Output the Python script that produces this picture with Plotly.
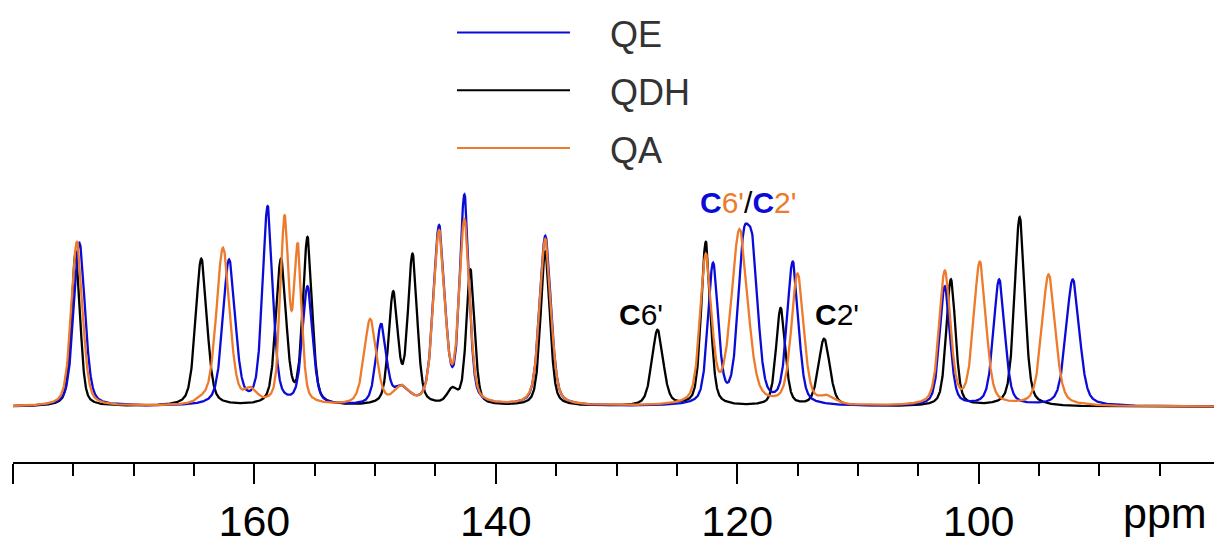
import numpy as np
import plotly.graph_objects as go

QE_ppm    = [174.5, 162.1, 160.3, 158.9, 155.6, 149.5, 147.8, 144.7, 142.6, 135.9, 122.0, 119.5, 118.7, 115.4, 102.8, 98.3, 92.2]
QE_height = [166,   149,   12,    203,   122,   84,    22,    184,   215,   173,   146,   176,   170,   147,   122,   129,  129]
QE_fwhm   = [1.1,   1.2,   1.0,   1.0,   1.0,   1.0,   1.5,   1.1,   0.9,   1.1,   1.0,   1.1,   1.1,   1.1,   1.0,   1.1,  1.3]

QDH_ppm    = [174.8, 164.4, 157.8, 155.6, 148.5, 146.9, 143.6, 142.1, 135.9, 126.6, 122.6, 116.4, 112.8, 102.3, 97.7, 96.6]
QDH_height = [157,   150,   150,   172,   117,   155,   20,    139,   157,   78,    167,   100,   69,    129,   18,   192]
QDH_fwhm   = [0.85,  1.1,   1.0,   0.9,   0.9,   0.9,   1.0,   0.8,   0.9,   1.1,   0.9,   0.9,   1.1,   0.9,   0.8,  1.0]

QA_ppm    = [174.7, 164.4, 162.6, 160.3, 157.5, 156.4, 150.4, 147.8, 144.7, 142.6, 137.2, 135.9, 122.6, 119.8, 115.0, 112.5, 102.8, 99.9, 94.2]
QA_height = [167,   12,    161,   20,    194,   166,   89,    22,    179,   190,   15,    170,   155,   180,   135,   12,    138,   147,  134]
QA_fwhm   = [1.1,   1.0,   1.3,   1.2,   0.8,   0.75,  1.2,   1.5,   1.1,   1.0,   0.8,   1.1,   1.1,   1.6,   1.2,   1.5,   1.1,   1.2,  1.3]

SERIES = ["QE", "QDH", "QA"]
COLORS = {"QE": "#0b0bd8", "QDH": "#000000", "QA": "#ee7a2c"}

X_TICKS = [180, 160, 140, 120, 100]
X_TICK_TEXT = ["", "160", "140", "120", "100"]

FONT = "Arial, 'Liberation Sans', sans-serif"
W, H = 1214, 545
ML, MR, MT, MB = 13, 0, 0, 77
PW, PH = W - ML - MR, H - MT - MB

ppm_grid = np.arange(80.5, 180.0001, 0.02)
ETA = 0.4


def shape(x, c, w):
    d = (x - c) / w
    return ETA / (1 + 4 * d ** 2) + (1 - ETA) * np.exp(-4 * np.log(2) * d ** 2)


def spectrum(ppm, height, fwhm):
    c = np.array(ppm, float)
    h = np.array(height, float)
    w = np.array(fwhm, float)
    M = shape(c[:, None], c[None, :], w[None, :])
    amp = np.clip(np.linalg.solve(M, h), 0, None)
    return (shape(ppm_grid[:, None], c[None, :], w[None, :]) * amp[None, :]).sum(axis=1)


data = {
    "QE": (QE_ppm, QE_height, QE_fwhm),
    "QDH": (QDH_ppm, QDH_height, QDH_fwhm),
    "QA": (QA_ppm, QA_height, QA_fwhm),
}

fig = go.Figure()
for name in ["QDH", "QE", "QA"]:
    fig.add_trace(go.Scatter(x=ppm_grid, y=spectrum(*data[name]), mode="lines",
                             line=dict(color=COLORS[name], width=2.3), name=name,
                             showlegend=False, hoverinfo="skip"))


def px(x):
    return (x - ML) / PW


def py(y):
    return (MT + PH - y) / PH


# manual legend
shapes = []
annotations = []
for i, name in enumerate(SERIES):
    ly = 33 + i * 58.5
    shapes.append(dict(type="line", xref="paper", yref="paper", x0=px(457), x1=px(570),
                       y0=py(ly), y1=py(ly), line=dict(color=COLORS[name], width=2)))
    annotations.append(dict(xref="paper", yref="paper", x=px(608), y=py(ly + 2), text=name,
                            showarrow=False, xanchor="left", yanchor="middle",
                            font=dict(family=FONT, size=36, color="#333333")))

blue, orange = COLORS["QE"], COLORS["QA"]
annotations += [
    dict(xref="paper", yref="paper", x=px(641), y=py(319), showarrow=False,
         text="<b>C</b>6'", xanchor="center", yanchor="middle",
         font=dict(family=FONT, size=30, color="black")),
    dict(xref="paper", yref="paper", x=px(837), y=py(319), showarrow=False,
         text="<b>C</b>2'", xanchor="center", yanchor="middle",
         font=dict(family=FONT, size=30, color="black")),
    dict(xref="paper", yref="paper", x=px(748), y=py(205), showarrow=False,
         text=(f"<b><span style='color:{blue}'>C</span></b><span style='color:{orange}'>6'</span>"
               f"<span style='color:black'>/</span>"
               f"<b><span style='color:{blue}'>C</span></b><span style='color:{orange}'>2'</span>"),
         xanchor="center", yanchor="middle",
         font=dict(family=FONT, size=30, color="black")),
    dict(xref="paper", yref="paper", x=px(1165), y=py(520), showarrow=False,
         text="ppm", xanchor="center", yanchor="middle",
         font=dict(family=FONT, size=43, color="black")),
]

fig.update_layout(
    width=W, height=H,
    margin=dict(l=ML, r=MR, t=MT, b=MB, pad=0),
    paper_bgcolor="white", plot_bgcolor="white",
    showlegend=False,
    shapes=shapes, annotations=annotations,
    xaxis=dict(range=[180, 80.5], tickmode="array", tickvals=X_TICKS, ticktext=X_TICK_TEXT,
               ticks="outside", ticklen=20, tickwidth=2, tickcolor="black",
               showline=True, linecolor="black", linewidth=2, mirror=False,
               showgrid=False, zeroline=False,
               tickfont=dict(family=FONT, size=43, color="black"),
               minor=dict(tick0=0, dtick=5, ticks="outside", ticklen=12, tickwidth=2,
                          tickcolor="black", showgrid=False)),
    yaxis=dict(visible=False, range=[-56, 412], showgrid=False, zeroline=False),
)

fig.write_html("out.html")
